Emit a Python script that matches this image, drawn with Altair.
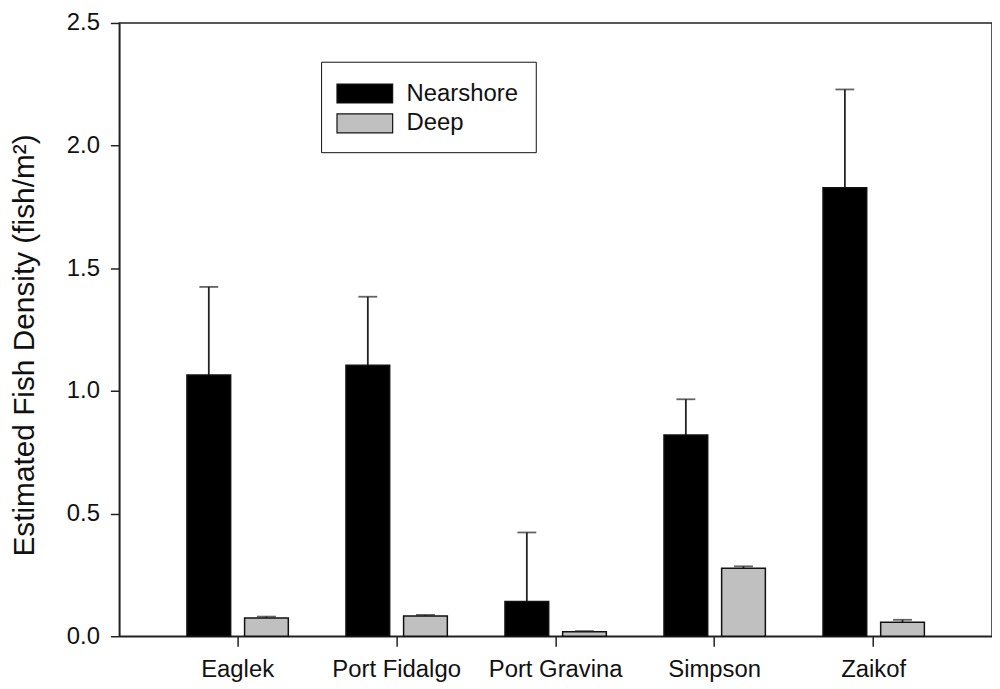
import altair as alt
import pandas as pd

sites = ["Eaglek", "Port Fidalgo", "Port Gravina", "Simpson", "Zaikof"]
nearshore = [1.065, 1.105, 0.142, 0.820, 1.828]
nearshore_upper = [1.424, 1.384, 0.423, 0.966, 2.229]
deep = [0.074, 0.082, 0.018, 0.277, 0.057]
deep_upper = [0.080, 0.087, 0.021, 0.285, 0.067]
types = ["Nearshore", "Deep"]

rows = []
for i, s in enumerate(sites):
    rows.append({"site": s, "type": "Nearshore", "value": nearshore[i], "upper": nearshore_upper[i]})
    rows.append({"site": s, "type": "Deep", "value": deep[i], "upper": deep_upper[i]})
df = pd.DataFrame(rows)

FONT = "Liberation Sans"

x = alt.X("site:N", sort=sites, title=None,
          scale=alt.Scale(paddingInner=0, paddingOuter=0.244),
          axis=alt.Axis(labelAngle=0, labelFontSize=24, labelFont=FONT, labelColor="#111",
                        tickSize=10, tickColor="#222", tickWidth=1.5,
                        domainColor="#222", domainWidth=1.5, labelPadding=12))
xo = alt.XOffset("type:N", sort=types,
                 scale=alt.Scale(paddingInner=0.2414, paddingOuter=0.5))
yscale = alt.Scale(domain=[0, 2.5], nice=False)

bars = alt.Chart(df).mark_bar(stroke="#111", strokeWidth=1.5).encode(
    x=x,
    xOffset=xo,
    y=alt.Y("value:Q", scale=yscale,
            title="Estimated Fish Density (fish/m²)",
            axis=alt.Axis(values=[0, 0.5, 1.0, 1.5, 2.0, 2.5], format=".1f",
                          labelFontSize=24, labelFont=FONT, labelColor="#111",
                          titleFontSize=30, titleFont=FONT, titleFontWeight="normal",
                          titleColor="#111", titleX=-86, titleY=324,
                          titleBaseline="alphabetic", titleAngle=270, titleAlign="center",
                          tickSize=9, tickColor="#222", tickWidth=1.5,
                          domainColor="#222", domainWidth=1.5, labelPadding=11,
                          grid=False)),
    color=alt.Color("type:N", sort=types,
                    scale=alt.Scale(domain=types, range=["#000000", "#c0c0c0"]),
                    legend=alt.Legend(title=None, orient="none", legendX=203, legendY=39,
                                      strokeColor="#111", padding=17, fillColor="white",
                                      labelFontSize=24, labelFont=FONT, labelColor="#111",
                                      symbolType="M-2,-0.68H2V0.68H-2Z", symbolSize=784,
                                      symbolOffset=12,
                                      symbolStrokeColor="#111", symbolStrokeWidth=1.2,
                                      symbolOpacity=1,
                                      rowPadding=3, labelOffset=27)),
)

rules = alt.Chart(df).mark_rule(color="#222", strokeWidth=1.8).encode(
    x=x, xOffset=xo,
    y=alt.Y("value:Q", scale=yscale),
    y2="upper:Q",
)

caps = alt.Chart(df).mark_tick(color="#222", size=19, thickness=1.8).encode(
    x=x, xOffset=xo,
    y=alt.Y("upper:Q", scale=yscale),
)

chart = alt.layer(rules, bars, caps).properties(
    width=878, height=617,
    autosize=alt.AutoSizeParams(type="none"),
    padding={"left": 112, "top": 13, "right": 0, "bottom": 47},
).configure_view(stroke="#222", strokeWidth=1.5).configure_axis(grid=False)

chart.save("out.html", embed_options={"renderer": "svg", "actions": False})
